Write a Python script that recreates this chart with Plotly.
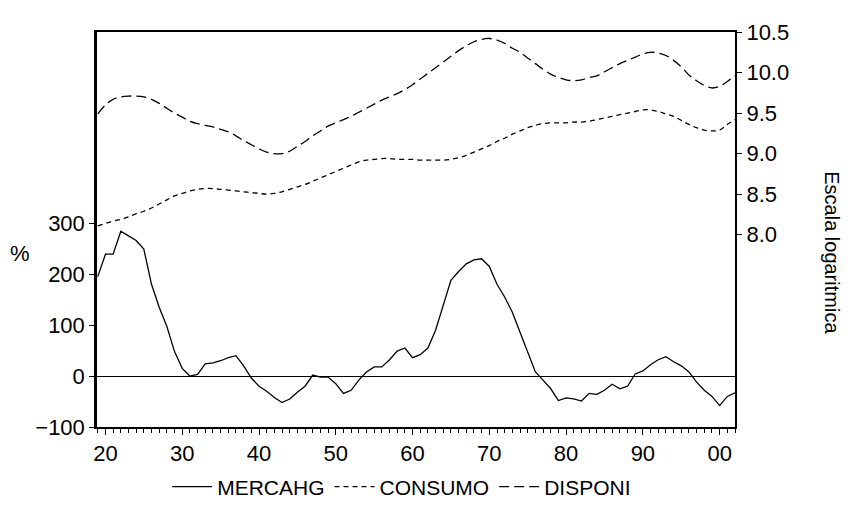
import plotly.graph_objects as go

years = list(range(1919, 2003))

mercahg = [195, 239, 239, 284, 275, 266, 249, 180, 135, 97,
           48, 15, 0, 3, 24, 26, 30, 36, 40, 20,
           -4, -20, -30, -42, -52, -45, -32, -20, 2, -2,
           -2, -15, -34, -28, -8, 8, 18, 18, 32, 49,
           55, 36, 42, 55, 90, 140, 188, 205, 220, 228,
           230, 215, 180, 155, 125, 86, 45, 8, -8, -25,
           -48, -43, -45, -49, -34, -36, -28, -16, -25, -20,
           4, 10, 22, 32, 38, 28, 20, 8, -12, -28,
           -40, -58, -40, -33]

consumo = [8.11, 8.14, 8.17, 8.19, 8.22, 8.26, 8.29, 8.33, 8.38, 8.43,
           8.48, 8.51, 8.54, 8.56, 8.57, 8.57, 8.56, 8.55, 8.54, 8.53,
           8.52, 8.51, 8.50, 8.51, 8.53, 8.56, 8.59, 8.62, 8.66, 8.70,
           8.74, 8.78, 8.82, 8.86, 8.90, 8.92, 8.93, 8.94, 8.94, 8.93,
           8.93, 8.93, 8.92, 8.92, 8.92, 8.92, 8.93, 8.95, 8.98, 9.02,
           9.06, 9.10, 9.15, 9.19, 9.24, 9.28, 9.32, 9.35, 9.37, 9.38,
           9.38, 9.38, 9.39, 9.39, 9.40, 9.42, 9.44, 9.46, 9.48, 9.50,
           9.52, 9.54, 9.54, 9.52, 9.49, 9.46, 9.41, 9.36, 9.32, 9.29,
           9.28, 9.29, 9.36, 9.42]

disponi = [9.49, 9.60, 9.67, 9.70, 9.71, 9.71, 9.70, 9.67, 9.62, 9.56,
           9.50, 9.45, 9.40, 9.37, 9.35, 9.33, 9.30, 9.27, 9.22, 9.16,
           9.11, 9.06, 9.02, 9.00, 9.00, 9.03, 9.09, 9.15, 9.22, 9.28,
           9.34, 9.38, 9.42, 9.46, 9.51, 9.56, 9.61, 9.66, 9.70, 9.74,
           9.79, 9.85, 9.92, 9.99, 10.06, 10.13, 10.20, 10.27, 10.33, 10.38,
           10.41, 10.42, 10.40, 10.36, 10.30, 10.25, 10.18, 10.11, 10.04, 9.98,
           9.94, 9.91, 9.90, 9.91, 9.94, 9.96, 10.01, 10.06, 10.11, 10.15,
           10.19, 10.23, 10.25, 10.24, 10.21, 10.15, 10.07, 9.97, 9.90, 9.84,
           9.81, 9.83, 9.89, 9.96]

x_tickvals = [1920, 1930, 1940, 1950, 1960, 1970, 1980, 1990, 2000]
x_ticktext = ["20", "30", "40", "50", "60", "70", "80", "90", "00"]
left_ticks = [-100, 0, 100, 200, 300]
right_ticks = [8.0, 8.5, 9.0, 9.5, 10.0, 10.5]

FONT = "Liberation Sans, Arial, sans-serif"

fig = go.Figure()
fig.add_trace(go.Scatter(x=years, y=mercahg, name="MERCAHG", mode="lines",
                         line=dict(color="black", width=1.3)))
fig.add_trace(go.Scatter(x=years, y=consumo, name="CONSUMO", mode="lines", yaxis="y2",
                         line=dict(color="black", width=1.3, dash="5px,4px", shape="spline")))
fig.add_trace(go.Scatter(x=years, y=disponi, name="DISPONI", mode="lines", yaxis="y2",
                         line=dict(color="black", width=1.3, dash="10px,5px", shape="spline")))

fig.update_layout(
    width=850, height=520,
    margin=dict(l=97, r=115, t=32, b=88),
    paper_bgcolor="white", plot_bgcolor="white",
    font=dict(family=FONT, size=22, color="black"),
    showlegend=True,
    legend=dict(orientation="h", x=0.11, xanchor="left", y=-0.1, yanchor="top",
                font=dict(size=21), bgcolor="rgba(0,0,0,0)", itemwidth=40,
                tracegroupgap=0),
    xaxis=dict(range=[1918.9, 2002.0], tickvals=x_tickvals, ticktext=x_ticktext,
               showgrid=False, zeroline=False, showline=True, linewidth=2, linecolor="black",
               mirror=True, ticks="outside", ticklen=6, tickwidth=1, tickcolor="black",
               minor=dict(dtick=1, ticks="outside", ticklen=4, tickwidth=1, tickcolor="black"),
               tickfont=dict(size=22)),
    yaxis=dict(range=[-100, 675], tickvals=left_ticks, showgrid=False,
               zeroline=True, zerolinecolor="black", zerolinewidth=1,
               showline=True, linewidth=2.5, linecolor="black",
               ticks="outside", ticklen=5, tickcolor="black", tickfont=dict(size=22)),
    yaxis2=dict(range=[5.63, 10.5], tickvals=right_ticks, tickformat=".1f",
                overlaying="y", side="right", showgrid=False, zeroline=False,
                showline=True, linewidth=2, linecolor="black",
                ticks="outside", ticklen=5, tickcolor="black", tickfont=dict(size=22)),
    annotations=[
        dict(text="%", xref="paper", yref="paper", x=-0.12, y=0.44,
             xanchor="center", yanchor="middle", showarrow=False, font=dict(size=22)),
        dict(text="Escala logaritmica", xref="paper", yref="paper", x=1.152, y=0.44,
             xanchor="center", yanchor="middle", textangle=90, showarrow=False,
             font=dict(size=20)),
    ],
)

fig.write_html("out.html")
